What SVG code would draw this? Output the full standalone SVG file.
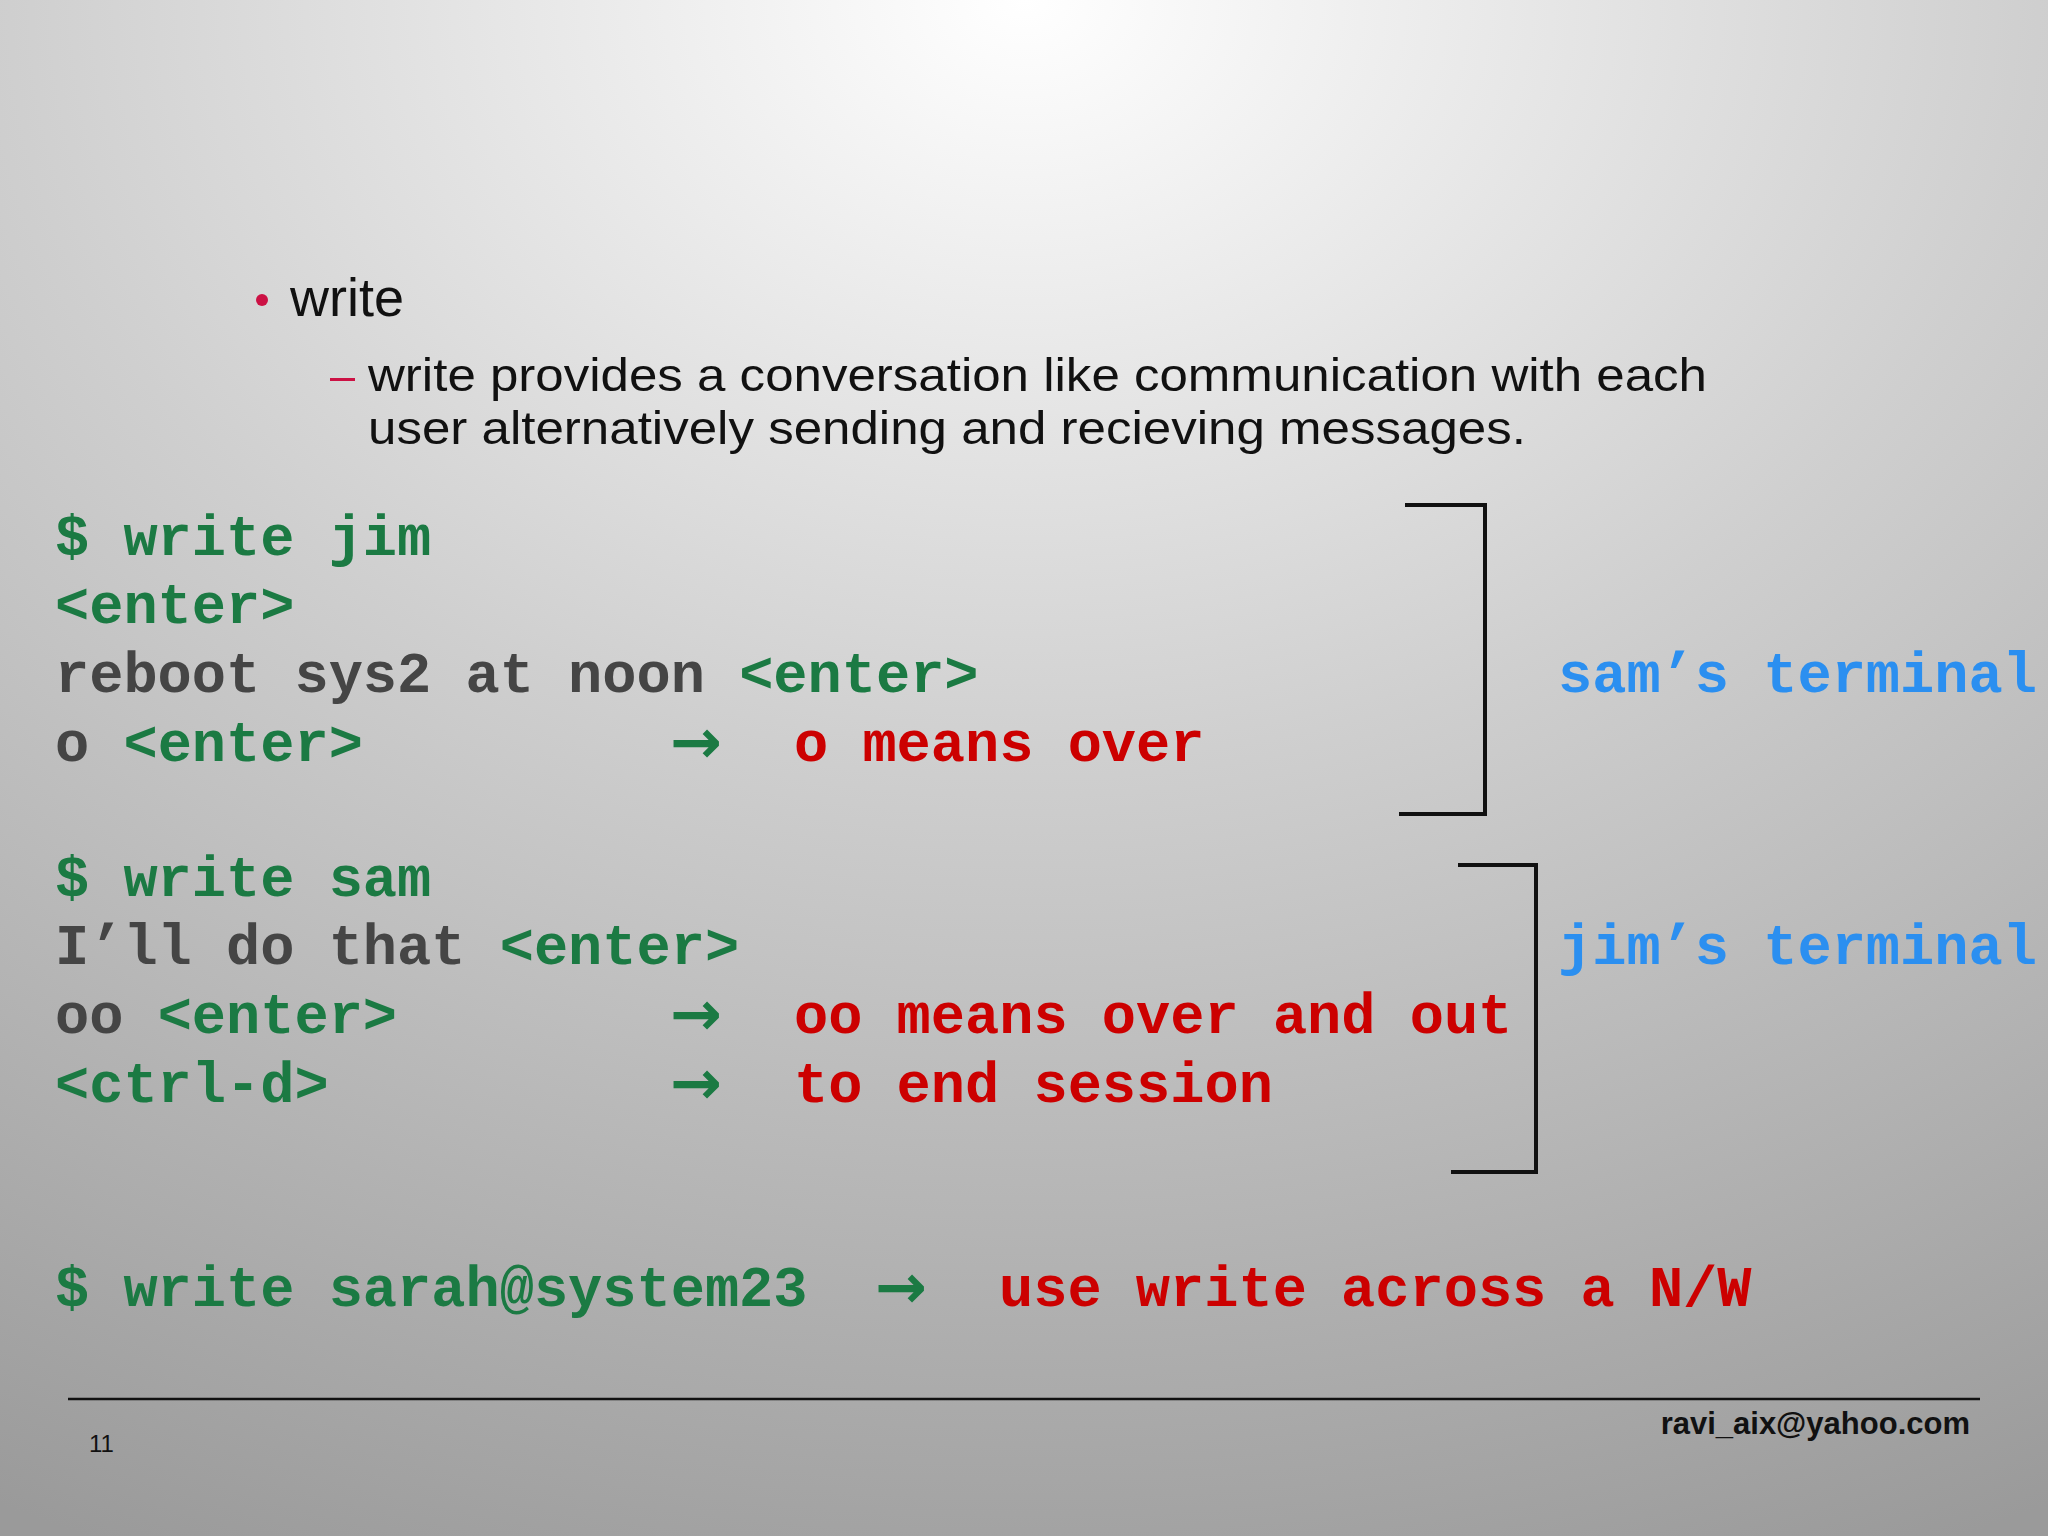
<svg xmlns="http://www.w3.org/2000/svg" width="2048" height="1536" viewBox="0 0 2048 1536">
<defs>
<radialGradient id="bg" cx="0.5" cy="0" r="1.1" fx="0.5" fy="0">
<stop offset="0" stop-color="#ffffff"/>
<stop offset="0.45" stop-color="#cfcfcf"/>
<stop offset="1" stop-color="#9a9a9a"/>
</radialGradient>
<style>
.m{font-family:"Liberation Mono","Courier New",monospace;font-weight:bold;font-size:57px}
.a{font-family:"DejaVu Sans",sans-serif;font-weight:bold;font-size:62px;fill:#1b7a43}
.g{fill:#1b7a43}.k{fill:#454545}.r{fill:#cc0000}.b{fill:#2b8ff0}
.s{font-family:"Liberation Sans",Arial,sans-serif;fill:#111}
.br{fill:none;stroke:#111;stroke-width:4}
</style>
</defs>
<rect width="2048" height="1536" fill="url(#bg)"/>
<g id="title">
<circle cx="262" cy="300" r="6" fill="#cc1144"/>
<text class="s" x="290" y="316" font-size="54">write</text>
<rect x="330" y="378" width="25" height="3" fill="#cc1144"/>
<text class="s" x="368" y="391" font-size="47" textLength="1339" lengthAdjust="spacingAndGlyphs">write provides a conversation like communication with each</text>
<text class="s" x="368" y="444" font-size="47" textLength="1158" lengthAdjust="spacingAndGlyphs">user alternatively sending and recieving messages.</text>
</g>
<g id="sam">
<text class="m g" x="55" y="555">$ write jim</text>
<text class="m g" x="55" y="623">&lt;enter&gt;</text>
<text class="m" x="55" y="692"><tspan class="k">reboot sys2 at noon </tspan><tspan class="g">&lt;enter&gt;</tspan></text>
<text class="m" x="55" y="761"><tspan class="k">o </tspan><tspan class="g">&lt;enter&gt;</tspan></text>
<text class="a" x="670" y="763">→</text>
<text class="m r" x="794" y="761">o means over</text>
<text class="m b" x="1558" y="692">sam’s terminal</text>
</g>
<g id="jim">
<text class="m g" x="55" y="896">$ write sam</text>
<text class="m" x="55" y="964"><tspan class="k">I’ll do that </tspan><tspan class="g">&lt;enter&gt;</tspan></text>
<text class="m" x="55" y="1033"><tspan class="k">oo </tspan><tspan class="g">&lt;enter&gt;</tspan></text>
<text class="a" x="670" y="1035">→</text>
<text class="m r" x="794" y="1033">oo means over and out</text>
<text class="m g" x="55" y="1102">&lt;ctrl-d&gt;</text>
<text class="a" x="670" y="1104">→</text>
<text class="m r" x="794" y="1102">to end session</text>
<text class="m b" x="1558" y="964">jim’s terminal</text>
</g>
<g id="nw">
<text class="m g" x="55" y="1306">$ write sarah@system23</text>
<text class="a" x="875" y="1308">→</text>
<text class="m r" x="999" y="1306">use write across a N/W</text>
</g>
<g id="connectors">
<polyline class="br" points="1405,505 1485,505 1485,814 1399,814"/>
<polyline class="br" points="1458,865 1536,865 1536,1172 1451,1172"/>
</g>
<g id="footer">
<line x1="68" y1="1399" x2="1980" y2="1399" stroke="#111" stroke-width="2.5"/>
<text class="s" x="89" y="1452" font-size="24">11</text>
<text class="s" x="1970" y="1434" font-size="31" font-weight="bold" text-anchor="end">ravi_aix@yahoo.com</text>
</g>
</svg>
